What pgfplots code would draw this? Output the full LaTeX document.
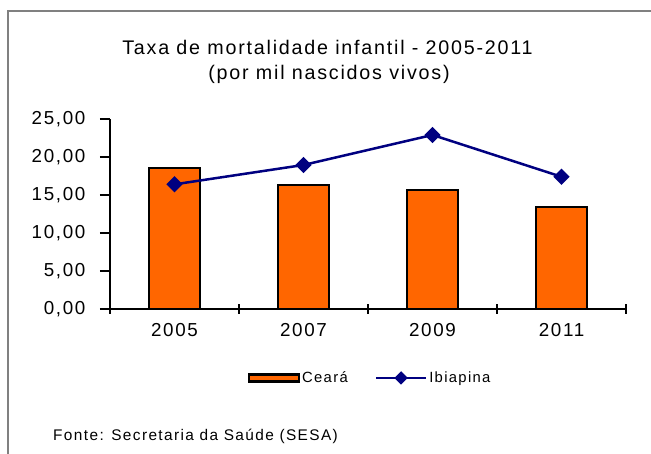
\documentclass[border=0pt]{standalone}
\usepackage{pgfplots}
\pgfplotsset{compat=1.18}
\usepackage{fontspec}
\setmainfont{Liberation Sans}[LetterSpace=9]
\definecolor{ceara}{RGB}{255,102,0}
\definecolor{ibia}{RGB}{0,0,128}
\definecolor{frame}{RGB}{128,128,128}
\begin{document}
\begin{tikzpicture}[x=1pt,y=1pt]
\path[use as bounding box] (0,0) rectangle (651,454);
\draw[frame, line width=1.5pt] (8,0) -- (8,443) -- (651,443);
\node[anchor=base, font=\fontsize{19.7}{22}\selectfont] at (327.5,399) {Taxa de mortalidade infantil - 2005-2011};
\node[anchor=base, font=\fontsize{19.7}{22}\selectfont] at (329,374) {(por mil nascidos vivos)};
\node[anchor=base west, font=\fontsize{15.4}{17}\selectfont, inner sep=0pt] at (53,13.5) {Fonte: Secretaria da Saúde (SESA)};
\begin{axis}[
  at={(110pt,145pt)}, anchor=south west,
  scale only axis, width=516pt, height=190pt,
  xmin=-0.5, xmax=3.5, ymin=0, ymax=25,
  axis lines*=left,
  axis line style={line width=2.5pt, black},
  xtick={-0.5,0.5,1.5,2.5,3.5},
  x tick label as interval,
  xticklabels={2005,2007,2009,2011},
  xtick align=center, ytick align=outside,
  major tick length=10pt,
  tick style={draw=black, line width=2.5pt},
  every tick/.append style={draw=black, line width=2.5pt},
  major tick style={draw=black, line width=2.5pt},
  ytick={0,5,10,15,20,25},
  yticklabel style={xshift=-11pt, /pgf/number format/.cd, fixed, fixed zerofill, precision=2, use comma, assume math mode=true},
  xticklabel style={yshift=-6pt},
  ticklabel style={font=\fontsize{18.8}{22}\selectfont},
  /pgf/number format/assume math mode=true,
  clip=false,
  legend columns=2,
  legend style={draw=none, fill=none, at={(0.504,-0.363)}, anchor=center,
    font=\fontsize{14.8}{17}\selectfont,
    /tikz/every even column/.append style={column sep=25pt}},
]
\addplot[ybar, bar width=51pt, fill=ceara, draw=black, line width=2.5pt,
  legend image code/.code={\draw[fill=ceara,draw=black,line width=2.5pt] (0pt,-3.3pt) rectangle (50pt,3.3pt);}]
  coordinates {(0,18.55) (1,16.3) (2,15.65) (3,13.45)};
\addlegendentry{Ceará}
\addplot[ibia, line width=2.5pt, mark=square*, mark size=4.5pt, mark options={rotate=45, fill=ibia},
  legend image code/.code={\draw[ibia,line width=2.5pt] (0pt,0pt) -- (50pt,0pt); \fill[ibia,rotate around={45:(25pt,0pt)}] (21.5pt,-3.5pt) rectangle (28.5pt,3.5pt);}]
  coordinates {(0,16.4) (1,18.95) (2,22.9) (3,17.4)};
\addlegendentry{Ibiapina}
\end{axis}
\end{tikzpicture}
\end{document}
